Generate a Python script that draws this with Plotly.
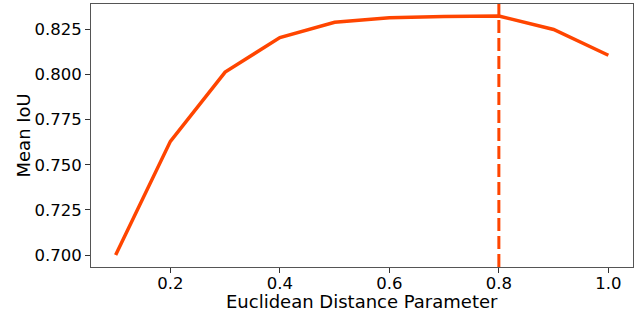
import plotly.graph_objects as go

x_vals = [0.1, 0.2, 0.3, 0.4, 0.5, 0.6, 0.7, 0.8, 0.9, 1.0]
miou = [0.700, 0.763, 0.8014, 0.8205, 0.829, 0.8315, 0.8322, 0.8325, 0.8250, 0.8107]
best_x = 0.8
x_ticks = [0.2, 0.4, 0.6, 0.8, 1.0]
y_ticks = [0.700, 0.725, 0.750, 0.775, 0.800, 0.825]
x_title = "Euclidean Distance Parameter"
y_title = "Mean IoU"

color = "#FF4500"
font = "DejaVu Sans"

fig = go.Figure()
fig.add_trace(go.Scatter(x=x_vals, y=miou, mode="lines",
                         line=dict(color=color, width=3.5), showlegend=False))
fig.add_shape(type="line", x0=best_x, x1=best_x, y0=0, y1=1, xref="x", yref="paper",
              line=dict(color=color, width=3, dash="13px,5px"))

ymin, ymax = min(miou), max(miou)
pad = (ymax - ymin) * 0.05
xpad = (max(x_vals) - min(x_vals)) * 0.05

fig.update_layout(
    width=643, height=311,
    margin=dict(l=91, r=10, t=4, b=44),
    paper_bgcolor="white", plot_bgcolor="white",
    font=dict(family=font, size=16.5, color="black"),
)
fig.add_annotation(text=x_title, xref="paper", yref="paper", x=0.5, y=0,
                   xanchor="center", yanchor="middle", yshift=-34.5, showarrow=False,
                   borderpad=0, font=dict(size=18))
fig.add_annotation(text=y_title, xref="paper", yref="paper", x=0, y=0.5,
                   xanchor="center", yanchor="middle", xshift=-68, textangle=-90,
                   showarrow=False, font=dict(size=18))
fig.update_xaxes(range=[min(x_vals) - xpad, max(x_vals) + xpad], automargin=False,
                 tickvals=x_ticks, ticktext=[f"{v:.1f}" for v in x_ticks],
                 ticks="outside", ticklen=5, tickwidth=1, tickcolor="#333",
                 ticklabelstandoff=-4,
                 showline=True, linecolor="#555", linewidth=1, mirror=True,
                 showgrid=False, zeroline=False)
fig.update_yaxes(range=[ymin - pad, ymax + pad], automargin=False,
                 tickvals=y_ticks, ticktext=[f"{v:.3f}" for v in y_ticks],
                 ticks="outside", ticklen=5, tickwidth=1, tickcolor="#333",
                 showline=True, linecolor="#555", linewidth=1, mirror=True,
                 showgrid=False, zeroline=False)

fig.write_html("out.html", config={"displayModeBar": False},
               post_script="document.body.style.margin='0';document.body.style.overflow='hidden';")
